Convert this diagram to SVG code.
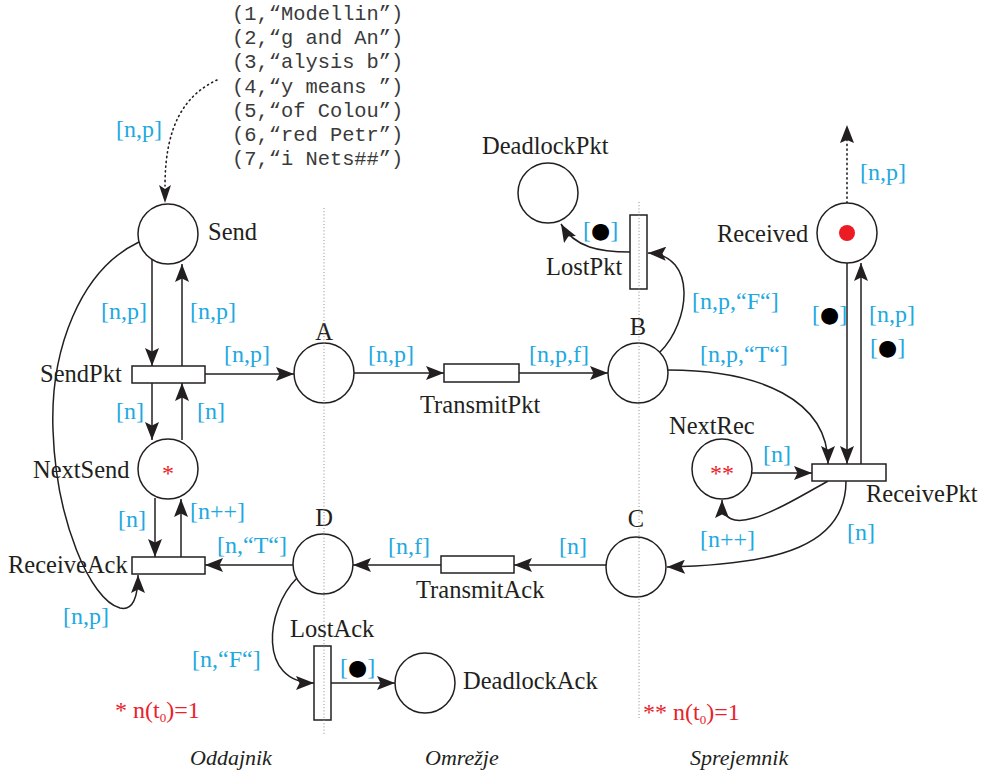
<svg xmlns="http://www.w3.org/2000/svg" width="981" height="775" viewBox="0 0 981 775">
  <style>
    .place { fill: #fff; stroke: #231f20; stroke-width: 1.5; }
    .trans { fill: #fff; stroke: #231f20; stroke-width: 1.5; }
    .arc { fill: none; stroke: #231f20; stroke-width: 1.5; marker-end: url(#head); }
    .dotarc { fill: none; stroke: #231f20; stroke-width: 1.6; stroke-dasharray: 1.2 3.6; stroke-linecap: round; }
    .guide { fill: none; stroke: #8a8a8a; stroke-width: 1; stroke-dasharray: 1 2.2; }
    .name { font-family: "Liberation Serif", "Times New Roman", serif; font-size: 24.5px; fill: #231f20; }
    .insc { font-family: "Liberation Serif", "Times New Roman", serif; font-size: 24px; fill: #1fa9e1; }
    .tok { fill: #000; font-family: "DejaVu Sans", sans-serif; font-size: 22px; }
    .note { font-family: "Liberation Serif", "Times New Roman", serif; font-size: 24px; fill: #e8232b; }
    .side { font-family: "Liberation Serif", "Times New Roman", serif; font-size: 22px; font-style: italic; fill: #231f20; }
    .mono { font-family: "Liberation Mono", "Courier New", monospace; font-size: 20.4px; fill: #3a3a3a; }
  </style>
  <defs>
    <marker id="head" markerUnits="userSpaceOnUse" markerWidth="18" markerHeight="14" refX="18" refY="7" orient="auto">
      <path d="M0,0 L18,7 L0,14 L3.5,7 z" fill="#231f20"/>
    </marker>
  </defs>

  <!-- initial marking of Send -->
  <g id="initial-tokens" class="mono">
    <text x="232" y="20">(1,“Modellin”)</text>
    <text x="232" y="44">(2,“g and An”)</text>
    <text x="232" y="68">(3,“alysis b”)</text>
    <text x="232" y="93">(4,“y means ”)</text>
    <text x="232" y="117">(5,“of Colou”)</text>
    <text x="232" y="141">(6,“red Petr”)</text>
    <text x="232" y="165">(7,“i Nets##”)</text>
  </g>

  <!-- arcs -->
  <g id="connectors">
    <!-- token source into Send -->
    <path class="dotarc" d="M217,80 C185,95 165,125 165,186"/>
    <path d="M159,185 L165,203 L171,185 L165,189 z" fill="#231f20"/>
    <!-- Received outwards -->
    <path class="dotarc" d="M847,203 L847,140"/>
    <path d="M840,143 L847,125 L854,143 L847,140 z" fill="#231f20"/>

    <path class="arc" d="M152,259 L152,366"/>
    <path class="arc" d="M182,366 L182,264"/>
    <path class="arc" d="M205,374 L294,374"/>
    <path class="arc" d="M354,373 L444,373"/>
    <path class="arc" d="M519,373 L608,373"/>
    <path class="arc" d="M152,383 L152,440"/>
    <path class="arc" d="M182,440 L182,383"/>
    <path class="arc" d="M155,498 L155,557"/>
    <path class="arc" d="M181,557 L181,499"/>
    <path class="arc" d="M139,242 C80,270 50,350 53,430 C56,520 90,600 120,608 C133,611 138,597 138,575"/>

    <path class="arc" d="M660,352 C690,322 698,255 648,253"/>
    <path class="arc" d="M630,252 C600,252 575,248 561,224"/>
    <path class="arc" d="M668,370 C760,370 828,400 828,464"/>
    <path class="arc" d="M847,263 L847,464"/>
    <path class="arc" d="M861,464 L861,263"/>
    <path class="arc" d="M752,473 L812,473"/>
    <path class="arc" d="M828,481 C785,505 722,545 722,500"/>
    <path class="arc" d="M846,481 C846,545 780,565 667,567"/>

    <path class="arc" d="M606,565 L514,565"/>
    <path class="arc" d="M441,565 L353,565"/>
    <path class="arc" d="M293,565 L205,565"/>
    <path class="arc" d="M297,578 C265,610 258,683 314,683"/>
    <path class="arc" d="M331,683 L395,683"/>
  </g>

  <!-- arc inscriptions -->
  <g id="inscriptions" class="insc">
    <text x="116" y="137">[n,p]</text>
    <text x="101" y="319">[n,p]</text>
    <text x="190" y="319">[n,p]</text>
    <text x="224" y="362">[n,p]</text>
    <text x="368" y="362">[n,p]</text>
    <text x="529" y="362">[n,p,f]</text>
    <text x="116" y="419">[n]</text>
    <text x="197" y="419">[n]</text>
    <text x="118" y="527">[n]</text>
    <text x="190" y="519">[n++]</text>
    <text x="217" y="553">[n,“T“]</text>
    <text x="63" y="624">[n,p]</text>
    <text x="388" y="554">[n,f]</text>
    <text x="559" y="554">[n]</text>
    <text x="192" y="667">[n,“F“]</text>
    <text x="340" y="675">[<tspan class="tok">●</tspan>]</text>
    <text x="583" y="238">[<tspan class="tok">●</tspan>]</text>
    <text x="692" y="309">[n,p,“F“]</text>
    <text x="700" y="362">[n,p,“T“]</text>
    <text x="860" y="180">[n,p]</text>
    <text x="812" y="322">[<tspan class="tok">●</tspan>]</text>
    <text x="869" y="322">[n,p]</text>
    <text x="870" y="355">[<tspan class="tok">●</tspan>]</text>
    <text x="763" y="462">[n]</text>
    <text x="700" y="547">[n++]</text>
    <text x="847" y="540">[n]</text>
  </g>

  <!-- places -->
  <g id="Send">
    <circle class="place" cx="168" cy="234" r="30"/>
    <text class="name" x="208" y="240">Send</text>
  </g>
  <g id="NextSend">
    <circle class="place" cx="168" cy="469" r="30"/>
    <text class="name" x="33" y="478">NextSend</text>
    <text class="note" x="168" y="481" text-anchor="middle" font-size="20">*</text>
  </g>
  <g id="A">
    <circle class="place" cx="324" cy="373" r="30"/>
    <text class="name" x="324" y="340" text-anchor="middle">A</text>
  </g>
  <g id="B">
    <circle class="place" cx="638" cy="373" r="30"/>
    <text class="name" x="638" y="335" text-anchor="middle">B</text>
  </g>
  <g id="C">
    <circle class="place" cx="636" cy="567" r="30"/>
    <text class="name" x="636" y="527" text-anchor="middle">C</text>
  </g>
  <g id="D">
    <circle class="place" cx="323" cy="564" r="30"/>
    <text class="name" x="324" y="526" text-anchor="middle">D</text>
  </g>
  <g id="DeadlockPkt">
    <circle class="place" cx="548" cy="193" r="30"/>
    <text class="name" x="482" y="154">DeadlockPkt</text>
  </g>
  <g id="Received">
    <circle class="place" cx="847" cy="233" r="30"/>
    <circle cx="847" cy="233" r="8" fill="#ed1c24"/>
    <text class="name" x="717" y="242">Received</text>
  </g>
  <g id="NextRec">
    <circle class="place" cx="722" cy="469" r="30"/>
    <text class="name" x="669" y="434">NextRec</text>
    <text class="note" x="722" y="481" text-anchor="middle" font-size="20">**</text>
  </g>
  <g id="DeadlockAck">
    <circle class="place" cx="425" cy="683" r="30"/>
    <text class="name" x="463" y="689">DeadlockAck</text>
  </g>

  <!-- transitions -->
  <g id="SendPkt">
    <rect class="trans" x="132" y="366" width="73" height="17"/>
    <text class="name" x="40" y="382">SendPkt</text>
  </g>
  <g id="ReceiveAck">
    <rect class="trans" x="132" y="557" width="73" height="17"/>
    <text class="name" x="8" y="573">ReceiveAck</text>
  </g>
  <g id="TransmitPkt">
    <rect class="trans" x="444" y="364" width="75" height="18"/>
    <text class="name" x="420" y="413">TransmitPkt</text>
  </g>
  <g id="TransmitAck">
    <rect class="trans" x="441" y="556" width="73" height="17"/>
    <text class="name" x="416" y="598">TransmitAck</text>
  </g>
  <g id="LostPkt">
    <rect class="trans" x="630" y="215" width="17" height="74"/>
    <text class="name" x="546" y="275">LostPkt</text>
  </g>
  <g id="ReceivePkt">
    <rect class="trans" x="812" y="464" width="74" height="17"/>
    <text class="name" x="866" y="502">ReceivePkt</text>
  </g>
  <g id="LostAck">
    <rect class="trans" x="314" y="646" width="17" height="74"/>
    <text class="name" x="290" y="637">LostAck</text>
  </g>

  <!-- boundaries between sender, network and receiver -->
  <g id="boundaries">
    <line class="guide" x1="324" y1="208" x2="324" y2="735"/>
    <line class="guide" x1="639" y1="202" x2="639" y2="718"/>
  </g>

  <!-- notes and region captions -->
  <g id="notes">
    <text class="note" x="115" y="718">* n(t<tspan font-size="13" dy="4">0</tspan><tspan dy="-4">)=1</tspan></text>
    <text class="note" x="643" y="720">** n(t<tspan font-size="13" dy="4">0</tspan><tspan dy="-4">)=1</tspan></text>
    <text class="side" x="190" y="765">Oddajnik</text>
    <text class="side" x="425" y="765">Omrežje</text>
    <text class="side" x="690" y="765">Sprejemnik</text>
  </g>
</svg>
